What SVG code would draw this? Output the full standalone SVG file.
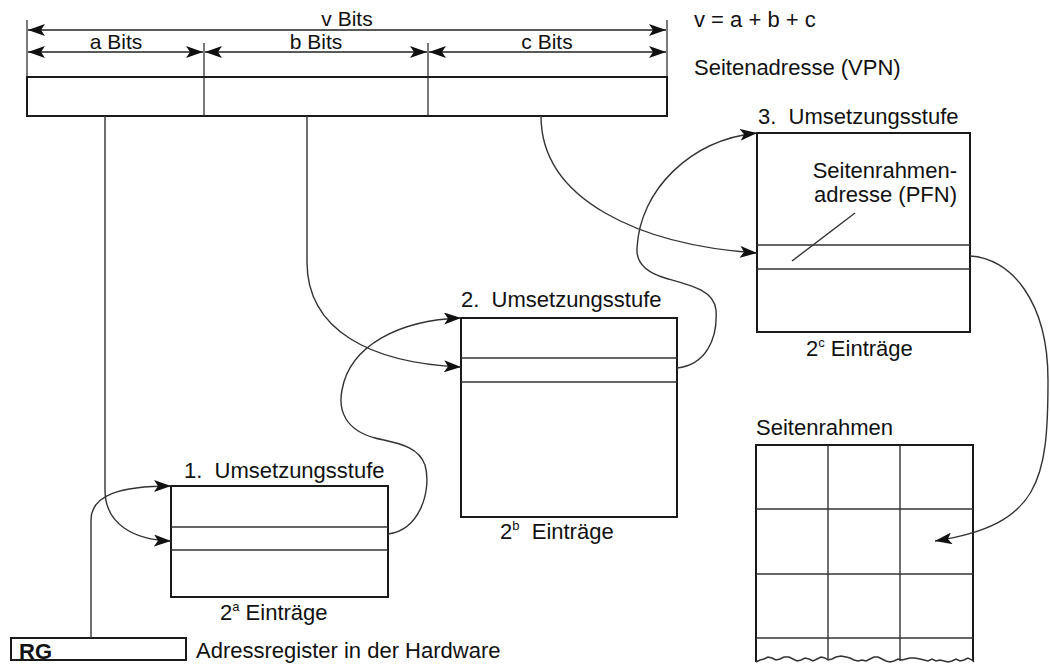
<svg xmlns="http://www.w3.org/2000/svg" width="1050" height="664" viewBox="0 0 1050 664">
<style>
text{font-family:"Liberation Sans",Arial,sans-serif;fill:#111;font-size:22px}
.top{font-size:21px}
.box{fill:none;stroke:#1a1a1a;stroke-width:2}
.inner{stroke:#333;stroke-width:1.4;fill:none}
.con{fill:none;stroke:#333;stroke-width:1.4}
.dim{fill:none;stroke:#222;stroke-width:1.6}
.tick{stroke:#333;stroke-width:1.3}
</style>
<defs>
<marker id="ah" markerUnits="userSpaceOnUse" markerWidth="18" markerHeight="12" refX="17" refY="6" orient="auto-start-reverse" viewBox="0 0 18 12">
<path d="M0,0 L17,6 L0,12 L4,6 z" fill="#111"/>
</marker>
</defs>
<rect width="1050" height="664" fill="#fff"/>

<g id="vpn">
<line class="tick" x1="27" y1="20" x2="27" y2="77"/>
<line class="tick" x1="667" y1="20" x2="667" y2="77"/>
<line class="tick" x1="204" y1="43" x2="204" y2="77"/>
<line class="tick" x1="428" y1="43" x2="428" y2="77"/>
<line class="dim" x1="28" y1="30" x2="666" y2="30" marker-start="url(#ah)" marker-end="url(#ah)"/>
<line class="dim" x1="28" y1="52" x2="203" y2="52" marker-start="url(#ah)" marker-end="url(#ah)"/>
<line class="dim" x1="205" y1="52" x2="427" y2="52" marker-start="url(#ah)" marker-end="url(#ah)"/>
<line class="dim" x1="429" y1="52" x2="666" y2="52" marker-start="url(#ah)" marker-end="url(#ah)"/>
<text class="top" x="347" y="26" text-anchor="middle">v Bits</text>
<text class="top" x="116" y="49" text-anchor="middle">a Bits</text>
<text class="top" x="316" y="49" text-anchor="middle">b Bits</text>
<text class="top" x="547" y="49" text-anchor="middle">c Bits</text>
<rect class="box" x="27" y="77" width="640" height="39"/>
<line class="tick" x1="204" y1="77" x2="204" y2="116"/>
<line class="tick" x1="428" y1="77" x2="428" y2="116"/>
<text x="694" y="27">v = a + b + c</text>
<text x="694" y="75">Seitenadresse (VPN)</text>
</g>

<g id="stufe1">
<text x="184" y="478">1.&#160; Umsetzungsstufe</text>
<rect class="box" x="171" y="486" width="217" height="111"/>
<line class="inner" x1="171" y1="527" x2="388" y2="527"/>
<line class="inner" x1="171" y1="550" x2="388" y2="550"/>
<text x="220" y="620">2<tspan font-size="13" dy="-9">a</tspan><tspan dy="9"> Einträge</tspan></text>
</g>

<g id="stufe2">
<text x="461" y="307">2.&#160; Umsetzungsstufe</text>
<rect class="box" x="461" y="318" width="216" height="199"/>
<line class="inner" x1="461" y1="358" x2="677" y2="358"/>
<line class="inner" x1="461" y1="382" x2="677" y2="382"/>
<text x="500" y="539">2<tspan font-size="13" dy="-9">b</tspan><tspan dy="9">&#160; Einträge</tspan></text>
</g>

<g id="stufe3">
<text x="758" y="124">3.&#160; Umsetzungsstufe</text>
<rect class="box" x="757" y="133" width="213" height="199"/>
<line class="inner" x1="757" y1="245" x2="970" y2="245"/>
<line class="inner" x1="757" y1="269" x2="970" y2="269"/>
<text x="957" y="178" text-anchor="end">Seitenrahmen-</text>
<text x="957" y="202" text-anchor="end">adresse (PFN)</text>
<line class="inner" x1="855" y1="213" x2="792" y2="261"/>
<text x="806" y="356">2<tspan font-size="13" dy="-9">c</tspan><tspan dy="9"> Einträge</tspan></text>
</g>

<g id="seitenrahmen">
<text x="756" y="435">Seitenrahmen</text>
<line class="box" x1="756" y1="445" x2="973" y2="445"/>
<line class="box" x1="756" y1="444" x2="756" y2="662"/>
<line class="box" x1="973" y1="444" x2="973" y2="661"/>
<line class="inner" x1="828" y1="445" x2="828" y2="660"/>
<line class="inner" x1="900" y1="445" x2="900" y2="661"/>
<line class="inner" x1="756" y1="509" x2="973" y2="509"/>
<line class="inner" x1="756" y1="574" x2="973" y2="574"/>
<line class="inner" x1="756" y1="638" x2="973" y2="638"/>
<polyline class="inner" points="756,662 760,660 764,659 768,657 772,658 776,660 780,659 784,657 789,657 793,659 797,661 801,660 805,658 809,659 813,661 817,659 821,657 825,658 828,660 832,659 836,657 841,656 846,657 850,658 854,660 858,661 862,660 866,661 870,659 874,657 878,657 882,659 886,661 890,662 894,661 898,659 902,660 906,659 910,658 915,658 920,659 924,660 928,661 932,659 936,661 940,660 944,661 948,662 952,661 956,659 960,661 964,660 968,658 972,660 974,662"/>
</g>

<g id="rg">
<rect class="box" x="11" y="638" width="175" height="22"/>
<text x="19" y="659" font-weight="bold" font-size="20">RG</text>
<text x="196" y="658">Adressregister in der Hardware</text>
</g>

<g id="connectors">
<path class="con" d="M105,116 V490 C105,525 135,540 171,541" marker-end="url(#ah)"/>
<path class="con" d="M91,638 V520 C91,495 120,486 171,486" marker-end="url(#ah)"/>
<path class="con" d="M307,116 V262 C307,330 370,363 461,367" marker-end="url(#ah)"/>
<path class="con" d="M388,534 C420,530 432,490 425,465 C418,445 395,443 375,438 C345,430 338,410 342,390 C350,345 400,320 461,318" marker-end="url(#ah)"/>
<path class="con" d="M541,116 C541,200 640,245 757,253" marker-end="url(#ah)"/>
<path class="con" d="M677,368 C705,365 718,340 716,310 C714,290 690,285 665,278 C645,272 636,262 637,248 C640,190 690,140 757,133" marker-end="url(#ah)"/>
<path class="con" d="M970,256 C1010,258 1048,300 1048,380 C1048,480 1040,525 935,541" marker-end="url(#ah)"/>
</g>
</svg>
